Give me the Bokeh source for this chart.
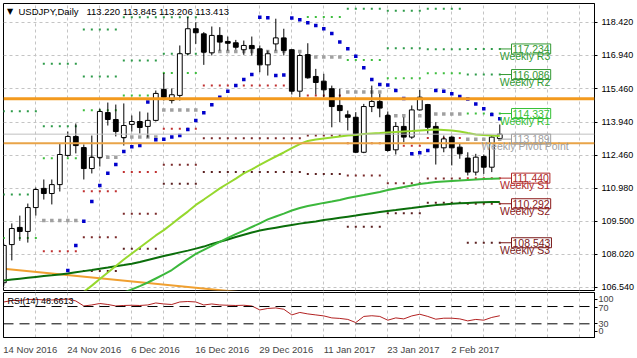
import numpy as np
from bokeh.plotting import figure
from bokeh.models import Range1d, FixedTicker, Label, Span, PrintfTickFormatter
from bokeh.layouts import column
from bokeh.embed import file_html
from bokeh.resources import INLINE

# ---------------- data ----------------
dates = ["2016-11-14", "2016-11-15", "2016-11-16", "2016-11-17", "2016-11-18",
         "2016-11-21", "2016-11-22", "2016-11-23", "2016-11-24", "2016-11-25",
         "2016-11-28", "2016-11-29", "2016-11-30", "2016-12-01", "2016-12-02",
         "2016-12-05", "2016-12-06", "2016-12-07", "2016-12-08", "2016-12-09",
         "2016-12-12", "2016-12-13", "2016-12-14", "2016-12-15", "2016-12-16",
         "2016-12-19", "2016-12-20", "2016-12-21", "2016-12-22", "2016-12-23",
         "2016-12-27", "2016-12-28", "2016-12-29", "2016-12-30",
         "2017-01-03", "2017-01-04", "2017-01-05", "2017-01-06",
         "2017-01-09", "2017-01-10", "2017-01-11", "2017-01-12", "2017-01-13",
         "2017-01-16", "2017-01-17", "2017-01-18", "2017-01-19", "2017-01-20",
         "2017-01-23", "2017-01-24", "2017-01-25", "2017-01-26", "2017-01-27",
         "2017-01-30", "2017-01-31", "2017-02-01", "2017-02-02", "2017-02-03",
         "2017-02-06", "2017-02-07", "2017-02-08", "2017-02-09", "2017-02-10"]

opens = [106.75, 108.46, 109.23, 109.05, 110.12, 110.98, 110.75, 111.15, 112.46, 113.31,
         112.81, 111.87, 112.37, 114.38, 114.07, 113.26, 113.85, 113.98, 113.76, 114.03,
         115.42, 114.92, 115.15, 117.02, 118.14, 117.91, 117.06, 117.84, 117.57, 117.51,
         117.20, 117.39, 117.24, 116.52, 117.46, 117.73, 117.20, 115.34, 116.98, 116.00,
         115.79, 115.45, 114.70, 114.28, 114.17, 112.60, 114.65, 114.88, 114.25, 112.71,
         113.76, 113.28, 114.50, 114.74, 113.76, 112.80, 113.28, 112.83, 112.34, 111.71,
         112.41, 111.93, 113.220]
highs = [108.50, 109.41, 109.76, 110.30, 111.02, 111.38, 111.38, 112.99, 113.53, 113.89,
         112.95, 113.35, 114.56, 114.83, 114.74, 114.79, 114.25, 114.43, 114.38, 115.37,
         116.15, 115.46, 117.39, 118.66, 118.43, 117.99, 118.24, 118.21, 117.79, 117.64,
         117.61, 117.79, 117.39, 117.16, 118.59, 118.14, 117.22, 117.03, 117.49, 116.34,
         116.12, 115.59, 115.45, 114.47, 114.40, 114.77, 115.59, 115.22, 114.43, 113.95,
         114.17, 114.70, 115.40, 114.77, 113.95, 113.35, 113.35, 112.98, 112.60, 112.53,
         112.50, 113.35, 113.845]
lows = [106.62, 107.75, 108.63, 108.55, 109.76, 110.48, 110.26, 110.84, 112.40, 112.55,
        111.38, 111.65, 111.96, 113.80, 113.31, 112.90, 113.53, 113.44, 113.26, 113.98,
        114.92, 114.79, 114.92, 116.94, 117.46, 116.52, 116.94, 117.16, 117.16, 117.20,
        116.97, 116.94, 116.19, 116.04, 117.16, 116.94, 115.19, 115.07, 115.90, 115.19,
        115.07, 113.72, 113.95, 113.58, 112.56, 112.56, 114.40, 114.17, 112.63, 112.50,
        113.05, 113.20, 114.47, 113.43, 112.05, 112.60, 112.01, 112.31, 111.56, 111.56,
        111.63, 111.71, 113.206]
closes = [108.42, 109.18, 109.05, 110.12, 110.93, 110.75, 111.15, 112.50, 113.31, 112.90,
          111.87, 112.37, 114.43, 114.07, 113.53, 113.80, 113.98, 113.71, 114.03, 115.24,
          115.07, 115.18, 117.02, 118.14, 117.96, 117.09, 117.84, 117.54, 117.49, 117.31,
          117.39, 117.24, 116.52, 117.02, 117.73, 117.16, 115.34, 116.94, 115.94, 115.73,
          115.40, 114.65, 114.47, 114.17, 112.60, 114.65, 114.88, 114.58, 112.68, 113.76,
          113.28, 114.50, 115.07, 113.72, 112.80, 113.20, 112.80, 112.53, 111.71, 112.38,
          111.93, 113.28, 113.413]

# Parabolic SAR (None = not visible)
sar = [None, None, None, None, None, None, None, None,
       107.30, 108.42, 109.51, 110.39, 111.11, 111.66, 112.05, 112.63, 112.85, 112.90,
       114.85, 113.16, 113.18, 113.28, 113.35, 113.62, 114.03, 114.37, 114.73, 115.07,
       115.34, 115.59, 115.86, 116.09, 118.66, 118.63, 116.04, 116.06, 118.62, 118.54,
       118.41, 118.29, 118.14, 117.93, 117.54, 117.24, 116.91, 116.39, 115.86, 115.64,
       115.62, 115.37, 115.01, 112.53, 112.58, 112.68, 115.37, 115.34, 115.22, 115.10,
       114.99, 114.77, 114.55, 114.29, 114.10]

# moving averages
ma_fast = [None] * 10 + [
    106.34, 106.62, 106.92, 107.21, 107.50, 107.79, 108.06, 108.33, 108.60, 108.87,
    109.11, 109.38, 109.67, 109.94, 110.24, 110.48, 110.73, 110.98, 111.20, 111.42,
    111.65, 111.83, 112.03, 112.23, 112.41, 112.59, 112.79, 112.97, 113.11, 113.17,
    113.22, 113.26, 113.31, 113.35, 113.37, 113.42, 113.44, 113.46, 113.49, 113.51,
    113.53, 113.55, 113.58, 113.60, 113.62, 113.60, 113.58, 113.53, 113.46, 113.40,
    113.37, 113.35, 113.33]
ma_mid = [None] * 15 + [
    106.31, 106.45, 106.60, 106.76, 106.94, 107.12, 107.32, 107.57, 107.81, 108.04,
    108.22, 108.40, 108.58, 108.76, 108.93, 109.09, 109.25, 109.41, 109.59, 109.72,
    109.85, 109.99, 110.10, 110.19, 110.26, 110.33, 110.39, 110.46, 110.55, 110.62,
    110.68, 110.75, 110.82, 110.91, 110.98, 111.04, 111.11, 111.18, 111.22, 111.27,
    111.29, 111.31, 111.33, 111.36, 111.38, 111.40, 111.41, 111.42]
ma_slow = [106.85, 106.89, 106.93, 106.97, 107.01, 107.05, 107.08, 107.12, 107.16, 107.22,
           107.27, 107.32, 107.38, 107.43, 107.49, 107.54, 107.60, 107.68, 107.77, 107.86,
           107.95, 108.03, 108.11, 108.19, 108.28, 108.37, 108.49, 108.59, 108.69, 108.80,
           108.90, 109.00, 109.09, 109.16, 109.22, 109.28, 109.34, 109.40, 109.45, 109.50,
           109.56, 109.61, 109.66, 109.71, 109.76, 109.82, 109.87, 109.92, 109.97, 110.01,
           110.06, 110.10, 110.15, 110.19, 110.23, 110.26, 110.29, 110.31, 110.33, 110.35,
           110.36, 110.37, 110.37]

rsi = [80.5, 83.9, 83.9, 86.2, 86.7, 85.1, 85.1, 86.2, 87.4, 82.8,
       71.3, 73.6, 77.0, 74.7, 71.3, 72.4, 72.9, 72.4, 73.6, 78.2,
       75.9, 74.7, 80.5, 81.6, 80.5, 73.6, 75.9, 73.6, 72.9, 72.4,
       72.9, 71.3, 62.1, 65.5, 66.7, 63.7, 50.6, 56.3, 52.9, 50.6,
       48.3, 43.7, 42.5, 40.2, 32.9, 47.1, 48.7, 47.1, 38.4, 43.7,
       41.4, 48.3, 52.2, 47.1, 40.7, 43.0, 43.0, 41.4, 36.8, 40.2,
       38.4, 44.8, 48.66]

# weekly pivot levels (one entry per week block)
week_first = [0, 5, 10, 15, 20, 25, 30, 34, 38, 43, 48, 53, 58]
week_last = [4, 9, 14, 19, 24, 29, 33, 37, 42, 47, 52, 57, 62]
piv_r3 = [114.44, 116.57, 118.11, 118.66, 118.66, None, None, None, None, None, 118.95, 119.04, 117.234]
piv_r2 = [110.71, 113.77, 116.00, 116.72, 117.02, None, None, None, None, 119.04, 117.27, 117.22, 116.086]
piv_r1 = [108.76, 112.33, 114.49, 115.15, 116.15, None, None, None, 118.67, 116.74, 115.92, 116.14, 114.337]
piv_pp = [None, 109.54, 112.38, 113.28, 114.50, 117.12, 117.12, 117.12, 116.87, 115.30, 114.24, 114.32, 113.189]
piv_s1 = [None, 108.16, 110.85, 111.71, 113.65, 115.59, 115.59, 115.59, 115.15, 113.00, 112.89, 113.24, 111.440]
piv_s2 = [None, None, 108.79, 109.84, 112.04, 113.23, 113.23, 113.23, 113.35, 111.56, 111.21, 111.42, 110.292]
piv_s3 = [None, None, 107.27, 108.27, 111.19, 111.71, 111.71, 111.71, 111.63, 109.26, 109.86, 110.34, 108.543]
piv_names = ["R3", "R2", "R1", "Pivot Point", "S1", "S2", "S3"]

hlines = [115.000, 113.000]
bid = 113.413
trend_x = [0, 30]
trend_y = [107.38, 106.31]
price_ticks = [106.540, 108.020, 109.500, 110.980, 112.460, 113.940, 115.460, 116.940, 118.420]
time_tick_idx = [0, 8, 16, 24, 32, 40, 48, 56]
time_tick_text = ["14 Nov 2016", "24 Nov 2016", "6 Dec 2016", "16 Dec 2016",
                  "29 Dec 2016", "11 Jan 2017", "23 Jan 2017", "2 Feb 2017"]
rsi_levels = [30, 70]
rsi_tick_pos = [12.6, 30.3, 67.4, 86.7]
rsi_tick_text = ["0", "30", "70", "100"]
title_sym = "USDJPY,Daily"
title_ohlc = "113.220 113.845 113.206 113.413"
rsi_title = "RSI(14) 48.6613"

# ---------------- styling / geometry ----------------
FONT = "Liberation Sans"
W = 637
FL, FR, FT, FB = 3, 594, 3, 290
X0, X1 = -0.04, 73.84
Y0, Y1 = 106.401, 119.272
RT, RB = 292, 337
RV0, RV1 = -1.6, 102.4
BAR_PX = (FR - FL) / (X1 - X0)


def dx(px):
    return X0 + (px - FL) * (X1 - X0) / (FR - FL)


def dy(py):
    return Y1 - (py - FT) * (Y1 - Y0) / (FB - FT)


def ry(py):
    return RV1 - (py - RT) * (RV1 - RV0) / (RB - RT)


PPX = (Y1 - Y0) / (FB - FT)

# approximate Arial/Liberation advance widths (em) to left-align axis labels at their bar
CW = {" ": 0.278, "N": 0.722, "o": 0.556, "v": 0.5, "D": 0.722, "e": 0.556, "c": 0.5,
      "J": 0.5, "a": 0.556, "n": 0.556, "F": 0.611, "b": 0.556}


def text_w(s, fs):
    return sum(CW.get(ch, 0.556) for ch in s) * fs


LAB_FS = 9.5
time_tick_pos = [round(i + (text_w(s, LAB_FS) / 2.0 - 0.5) / BAR_PX, 4)
                 for i, s in zip(time_tick_idx, time_tick_text)]

GRID_C = "#C4C4C4"
grid_x = list(range(4, 74, 4))

idx = np.arange(len(opens))
o = np.array(opens, dtype=float)
h = np.array(highs, dtype=float)
l = np.array(lows, dtype=float)
c = np.array(closes, dtype=float)

p = figure(width=W, height=291, x_range=Range1d(X0, X1), y_range=Range1d(Y0, Y1),
           x_axis_location=None, y_axis_location="right",
           output_backend="svg", toolbar_location=None,
           min_border_left=FL, min_border_right=W - FR, min_border_top=FT, min_border_bottom=1)
p.outline_line_color = "black"
p.outline_line_width = 1
p.background_fill_color = "white"
p.border_fill_color = "white"

ax = p.yaxis[0]
ax.ticker = FixedTicker(ticks=price_ticks)
ax.formatter = PrintfTickFormatter(format="%.3f")
ax.major_label_text_font = FONT
ax.major_label_text_font_size = "9px"
ax.major_label_text_color = "black"
ax.major_tick_out = 3
ax.major_tick_in = 0
ax.minor_tick_line_color = None
ax.major_label_standoff = 4
ax.axis_line_color = "black"

p.ygrid.grid_line_color = GRID_C
p.ygrid.grid_line_dash = "3 3"
p.xgrid.ticker = FixedTicker(ticks=grid_x)
p.xgrid.grid_line_color = GRID_C
p.xgrid.grid_line_dash = "3 3"

# pivot dots
piv_sets = [piv_r3, piv_r2, piv_r1, piv_pp, piv_s1, piv_s2, piv_s3]
dot_colors = ["#2E9B4A", "#2E9B4A", "#3DBE3D", "#A0A0A0", "#C03030", "#7A2A2A", "#5A2020"]
dot_sizes = [2, 2, 2, 3.5, 2, 2, 2]
for vals, col, sz in zip(piv_sets, dot_colors, dot_sizes):
    xs, ys = [], []
    for wf, wl, v in zip(week_first, week_last, vals):
        if v is None:
            continue
        for b in range(wf, wl + 1):
            xs.append(b)
            ys.append(v)
    p.scatter(xs, ys, marker="square", size=sz, fill_color=col, line_color=None)

# trend line
p.line(trend_x, trend_y, line_color="#F0A030", line_width=2)

# candles
inc = c >= o
p.segment(idx, h, idx, l, line_color="black", line_width=1)
p.vbar(x=idx[inc], top=c[inc], bottom=o[inc], width=0.6, fill_color="white", line_color="black")
p.vbar(x=idx[~inc], top=o[~inc], bottom=c[~inc], width=0.6, fill_color="black", line_color="black")

# moving averages
p.line(idx, np.array(ma_slow, dtype=float), line_color="#0B6E0B", line_width=2)
p.line(idx, np.array(ma_mid, dtype=float), line_color="#3CB83C", line_width=2)
p.line(idx, np.array(ma_fast, dtype=float), line_color="#96D82E", line_width=2)

# parabolic SAR
p.scatter(idx, np.array(sar, dtype=float), marker="square", size=3.5, fill_color="#0000CC", line_color=None)

# horizontal lines
p.add_layout(Span(location=bid, dimension="width", line_color="#C0C0C0", line_width=1))
p.add_layout(Span(location=hlines[0], dimension="width", line_color="#F39A1E", line_width=3))
p.add_layout(Span(location=hlines[1], dimension="width", line_color="#E9A448", line_width=2))

# pivot labels for the last week
lab_colors = ["#339933", "#339933", "#33C033", "#A0A0A0", "#B02828", "#8B1A1A", "#7A1A1A"]
last = len(week_first) - 1
for vals, name, col in zip(piv_sets, piv_names, lab_colors):
    v = vals[last]
    p.segment(x0=[week_last[last]], y0=[v], x1=[dx(511)], y1=[v], line_color=col, line_width=1)
    p.add_layout(Label(x=dx(511), y=v, text=f"{v:.3f}", text_font=FONT, text_font_size="10.5px",
                       text_color=col, text_baseline="middle", text_align="left",
                       border_line_color=col, padding=1))
    p.add_layout(Label(x=dx(524.5), y=v - 7 * PPX, text=f"Weekly {name}", text_font=FONT,
                       text_font_size="10.5px", text_color=col, text_baseline="middle",
                       text_align="center"))

# price tags in the right margin
for lvl, bg in [(bid, "black"), (hlines[0], "#F39A1E"), (hlines[1], "#F0A030")]:
    p.add_layout(Label(x=dx(598), y=lvl, text=f"{lvl:.3f}", text_font=FONT, text_font_size="9px",
                       text_color="white", background_fill_color=bg, text_baseline="middle",
                       text_align="left", padding=2))

# title
p.add_layout(Label(x=dx(6.5), y=dy(11), text="\u25BC", text_font="DejaVu Sans", text_font_size="8px",
                   text_color="black", text_baseline="middle"))
p.add_layout(Label(x=dx(18), y=dy(10.5), text=title_sym, text_font=FONT, text_font_size="9.5px",
                   text_color="black", text_baseline="middle"))
p.add_layout(Label(x=dx(86), y=dy(10.5), text=title_ohlc, text_font=FONT, text_font_size="9.5px",
                   text_color="black", text_baseline="middle"))

# ---------------- RSI panel ----------------
r = figure(width=W, height=67, x_range=p.x_range, y_range=Range1d(RV0, RV1),
           y_axis_location="right", output_backend="svg", toolbar_location=None,
           min_border_left=FL, min_border_right=W - FR, min_border_top=1, min_border_bottom=21)
r.outline_line_color = "black"
r.background_fill_color = "white"
r.border_fill_color = "white"
ry_ax = r.yaxis[0]
ry_ax.ticker = FixedTicker(ticks=rsi_tick_pos)
ry_ax.major_label_overrides = {pos: t for pos, t in zip(rsi_tick_pos, rsi_tick_text)}
ry_ax.major_label_text_font = FONT
ry_ax.major_label_text_font_size = "9px"
ry_ax.major_tick_out = 3
ry_ax.major_tick_in = 0
ry_ax.minor_tick_line_color = None
ry_ax.major_label_standoff = 1
ry_ax.axis_line_color = "black"
r.ygrid.visible = False

rx_ax = r.xaxis[0]
rx_ax.ticker = FixedTicker(ticks=time_tick_pos)
rx_ax.major_label_overrides = {t: s for t, s in zip(time_tick_pos, time_tick_text)}
rx_ax.major_label_text_font = FONT
rx_ax.major_label_text_font_size = f"{LAB_FS}px"
rx_ax.major_tick_out = 0
rx_ax.major_tick_in = 0
rx_ax.minor_tick_line_color = None
rx_ax.major_label_standoff = 6
rx_ax.axis_line_color = "black"
r.xgrid.ticker = FixedTicker(ticks=grid_x)
r.xgrid.grid_line_color = GRID_C
r.xgrid.grid_line_dash = "3 3"

for lv in rsi_levels:
    r.add_layout(Span(location=lv, dimension="width", line_color="black", line_width=1, line_dash="10 6"))
r.line(idx, rsi, line_color="#B22222", line_width=1)
r.add_layout(Label(x=dx(7), y=ry(300), text=rsi_title, text_font=FONT, text_font_size="9px",
                   text_color="black", text_baseline="middle"))

layout = column(p, r, spacing=0)
open("out.html", "w").write(file_html(layout, INLINE))
